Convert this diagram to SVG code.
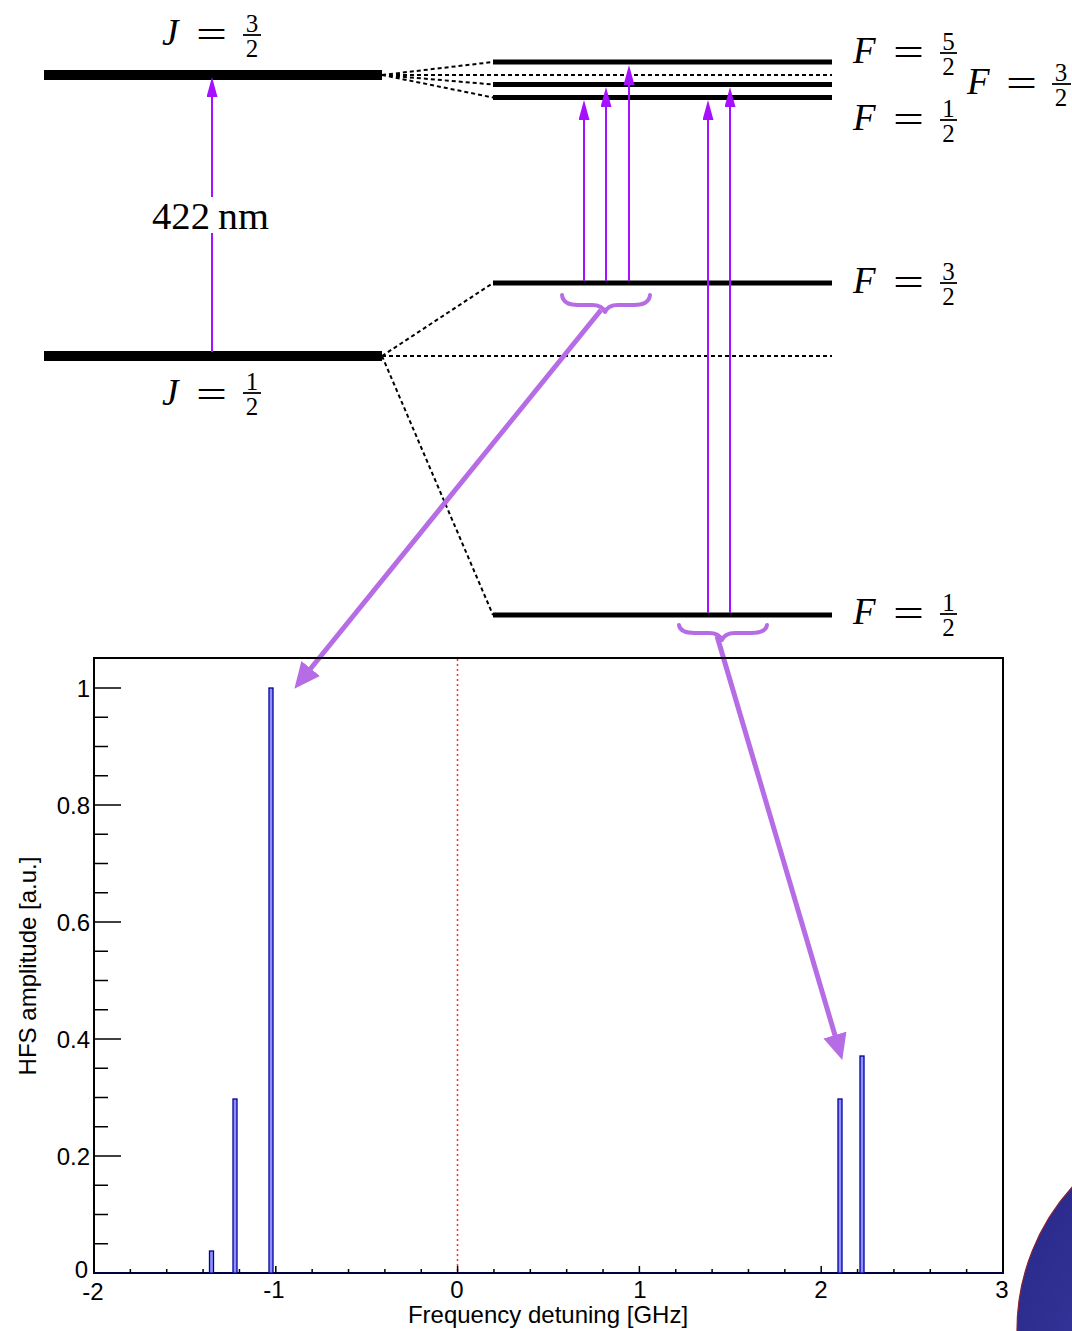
<svg xmlns="http://www.w3.org/2000/svg" width="1072" height="1331" viewBox="0 0 1072 1331">
<defs>
<style>
.lvlJ{stroke:#000;stroke-width:10}
.lvlF{stroke:#000;stroke-width:5}
.dash{stroke:#000;stroke-width:2;stroke-dasharray:4 3;fill:none}
.mi{font-family:"Liberation Serif","Times New Roman",serif;font-style:italic;font-size:37px}
.eq{font-family:"Liberation Serif","Times New Roman",serif;font-size:40px}
.rm{font-family:"Liberation Serif","Times New Roman",serif;font-size:38px}
.fr{font-family:"Liberation Serif","Times New Roman",serif;font-size:25px;text-anchor:middle}
.fb{stroke:#000;stroke-width:1.8}
.tr{stroke:#a510ff;stroke-width:2;fill:none}
.big{stroke:#b66ce4;stroke-width:5;fill:none}
.brace{stroke:#b66ce4;stroke-width:4;fill:none;stroke-linecap:round;stroke-linejoin:round}
.ax{font-family:"Liberation Sans",Arial,sans-serif;font-size:24px}
.hb{fill:#8f8fff;stroke:#00009a;stroke-width:1.3}
.tick{stroke:#000;stroke-width:1.5;fill:none}
</style>
<marker id="ah" viewBox="0 0 20 11" refX="0" refY="5.5" markerWidth="20" markerHeight="11" markerUnits="userSpaceOnUse" orient="auto"><path d="M0,0 L20,5.5 L0,11 z" fill="#a510ff"/></marker>
<marker id="bh" viewBox="0 0 26 24" refX="1" refY="12" markerWidth="26" markerHeight="24" markerUnits="userSpaceOnUse" orient="auto"><path d="M0,0 L26,12 L0,24 z" fill="#b66ce4"/></marker>
<radialGradient id="blobg" cx="0.65" cy="0.65" r="0.7"><stop offset="0" stop-color="#4646b0"/><stop offset="1" stop-color="#2c2c8e"/></radialGradient>
</defs>

<!-- energy levels -->
<g id="level-J32"><line class="lvlJ" x1="44" y1="75" x2="382" y2="75"/></g>
<g id="level-J12"><line class="lvlJ" x1="44" y1="356" x2="382" y2="356"/></g>
<g id="level-F52-upper"><line class="lvlF" x1="493" y1="62" x2="832" y2="62"/></g>
<g id="level-F32-upper"><line class="lvlF" x1="493" y1="84.5" x2="832" y2="84.5"/></g>
<g id="level-F12-upper"><line class="lvlF" x1="493" y1="97.5" x2="832" y2="97.5"/></g>
<g id="level-F32-lower"><line class="lvlF" x1="493" y1="283" x2="832" y2="283"/></g>
<g id="level-F12-lower"><line class="lvlF" x1="493" y1="615" x2="832" y2="615"/></g>

<!-- labels -->
<g id="label-J32">
<text class="mi" x="162" y="45">J</text>
<text class="eq" x="196" y="48" textLength="31" lengthAdjust="spacingAndGlyphs">=</text>
<text class="fr" x="252" y="31.5">3</text><line class="fb" x1="243" y1="35" x2="261" y2="35"/><text class="fr" x="252" y="57">2</text>
</g>
<g id="label-J12">
<text class="mi" x="162" y="405">J</text>
<text class="eq" x="196" y="408" textLength="31" lengthAdjust="spacingAndGlyphs">=</text>
<text class="fr" x="252" y="389.5">1</text><line class="fb" x1="243" y1="393" x2="261" y2="393"/><text class="fr" x="252" y="415">2</text>
</g>
<g id="label-422">
<text class="rm" x="152" y="229" textLength="58" lengthAdjust="spacingAndGlyphs">422</text>
<text class="rm" x="218" y="229" textLength="51" lengthAdjust="spacingAndGlyphs">nm</text>
</g>
<g id="label-F52">
<text class="mi" x="853" y="63">F</text>
<text class="eq" x="893" y="66" textLength="31" lengthAdjust="spacingAndGlyphs">=</text>
<text class="fr" x="948.5" y="49.5">5</text><line class="fb" x1="940" y1="53" x2="957" y2="53"/><text class="fr" x="948.5" y="75">2</text>
</g>
<g id="label-F12-upper">
<text class="mi" x="853" y="130">F</text>
<text class="eq" x="893" y="133" textLength="31" lengthAdjust="spacingAndGlyphs">=</text>
<text class="fr" x="948.5" y="116.5">1</text><line class="fb" x1="940" y1="120" x2="957" y2="120"/><text class="fr" x="948.5" y="142">2</text>
</g>
<g id="label-F32-upper">
<text class="mi" x="967" y="94">F</text>
<text class="eq" x="1006" y="97" textLength="31" lengthAdjust="spacingAndGlyphs">=</text>
<text class="fr" x="1061" y="80.5">3</text><line class="fb" x1="1052" y1="84" x2="1071" y2="84"/><text class="fr" x="1061" y="106">2</text>
</g>
<g id="label-F32-lower">
<text class="mi" x="853" y="293">F</text>
<text class="eq" x="893" y="296" textLength="31" lengthAdjust="spacingAndGlyphs">=</text>
<text class="fr" x="948.5" y="279.5">3</text><line class="fb" x1="940" y1="283" x2="957" y2="283"/><text class="fr" x="948.5" y="305">2</text>
</g>
<g id="label-F12-lower">
<text class="mi" x="853" y="624">F</text>
<text class="eq" x="893" y="627" textLength="31" lengthAdjust="spacingAndGlyphs">=</text>
<text class="fr" x="948.5" y="610.5">1</text><line class="fb" x1="940" y1="614" x2="957" y2="614"/><text class="fr" x="948.5" y="636">2</text>
</g>

<!-- connectors -->
<g id="connectors">
<path class="dash" d="M382,75 L493,62 M382,75 L493,75 L832,75 M382,75 L493,84.5 M382,75 L493,97.5"/>
<path class="dash" d="M382,356 L493,283 M382,356 L832,356 M382,356 L493,615"/>
<path class="tr" d="M212,352 V233 M212,197 V97" marker-end="url(#ah)"/>
<path class="tr" d="M584,281 V120" marker-end="url(#ah)"/>
<path class="tr" d="M606,281 V107" marker-end="url(#ah)"/>
<path class="tr" d="M629,281 V85" marker-end="url(#ah)"/>
<path class="tr" d="M708,613 V120" marker-end="url(#ah)"/>
<path class="tr" d="M730,613 V107" marker-end="url(#ah)"/>
<path class="brace" d="M562,295 Q563,305 578,305 L592,305 Q602,305 605,312 Q608,305 618,305 L634,305 Q649,305 650,295"/>
<path class="brace" d="M679,625 Q680,633 695,633 L709,633 Q719,633 722,640 Q725,633 735,633 L751,633 Q766,633 767,625"/>
<path class="big" d="M601,310 L310.1,669.3" marker-end="url(#bh)"/>
<path class="big" d="M717,636 L835.2,1036" marker-end="url(#bh)"/>
</g>

<!-- plot -->
<g id="plot">
<line x1="457.5" y1="659" x2="457.5" y2="1272" stroke="#ff2a2a" stroke-width="1.5" stroke-dasharray="2 3"/>
<rect x="94" y="658" width="909" height="615" fill="none" stroke="#000" stroke-width="2"/>
<line x1="94" y1="1273" x2="1003" y2="1273" stroke="#000040" stroke-width="2"/>
<path class="tick" d="M94,1156H121M94,1039H121M94,922H121M94,805H121M94,688H121"/>
<path class="tick" d="M94,1243.75H108M94,1214.5H108M94,1185.25H108M94,1126.75H108M94,1097.5H108M94,1068.25H108M94,1009.75H108M94,980.5H108M94,951.25H108M94,892.75H108M94,863.5H108M94,834.25H108M94,775.75H108M94,746.5H108M94,717.25H108"/>
<path class="tick" d="M275.8,1273V1266M457.6,1273V1266M639.4,1273V1266M821.2,1273V1266"/>
<path class="tick" d="M130.36,1273V1269M166.72,1273V1269M203.08,1273V1269M239.44,1273V1269M312.16,1273V1269M348.52,1273V1269M384.88,1273V1269M421.24,1273V1269M493.96,1273V1269M530.32,1273V1269M566.68,1273V1269M603.04,1273V1269M675.76,1273V1269M712.12,1273V1269M748.48,1273V1269M784.84,1273V1269M857.56,1273V1269M893.92,1273V1269M930.28,1273V1269M966.64,1273V1269"/>
<rect class="hb" x="209.5" y="1251" width="4" height="22"/>
<rect class="hb" x="233" y="1099" width="4" height="174"/>
<rect class="hb" x="269" y="688" width="4" height="585"/>
<rect class="hb" x="838" y="1099" width="4" height="174"/>
<rect class="hb" x="860" y="1056" width="4" height="217"/>
<g class="ax" text-anchor="end">
<text x="90" y="697">1</text>
<text x="90" y="814">0.8</text>
<text x="90" y="931">0.6</text>
<text x="90" y="1048">0.4</text>
<text x="90" y="1165">0.2</text>
<text x="88" y="1278">0</text>
</g>
<g class="ax" text-anchor="middle">
<text x="93" y="1300">-2</text>
<text x="274" y="1298">-1</text>
<text x="457" y="1298">0</text>
<text x="640" y="1298">1</text>
<text x="821" y="1298">2</text>
<text x="1002" y="1298">3</text>
<text x="548" y="1323">Frequency detuning [GHz]</text>
<text x="0" y="0" transform="translate(36,966) rotate(-90)">HFS amplitude [a.u.]</text>
</g>
</g>

<g id="blob"><circle cx="1230" cy="1330" r="213" fill="url(#blobg)" stroke="#8a2030" stroke-width="1.2"/></g>
</svg>
